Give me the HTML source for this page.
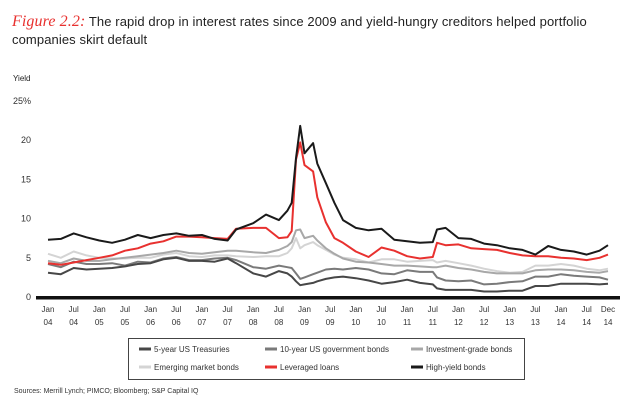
<!DOCTYPE html>
<html><head><meta charset="utf-8">
<style>
body{margin:0;background:#fff;width:640px;height:410px;overflow:hidden;font-family:"Liberation Sans",sans-serif;}
#wrap{position:relative;width:640px;height:410px;}
.title{position:absolute;left:12px;top:13px;font-size:13px;line-height:18px;color:#222;width:630px;white-space:nowrap;letter-spacing:0.1px;}
.fig{color:#e8312f;font-family:"Liberation Serif",serif;font-style:italic;font-size:16px;}
.src{position:absolute;left:14px;top:388px;font-size:7px;color:#333;}
</style></head><body>
<div id="wrap">
<div class="title"><span class="fig">Figure 2.2:</span> The rapid drop in interest rates since 2009 and yield-hungry creditors helped portfolio<br>companies skirt default</div>
<svg id="chart" width="640" height="410" style="position:absolute;left:0;top:0"></svg>
<div class="src">Sources: Merrill Lynch; PIMCO; Bloomberg; S&amp;P Capital IQ</div>
</div>
<script>
const months=[0,3,6,9,12,15,18,21,24,27,30,33,36,39,42,44,48,51,54,56,57,58,59,60,62,63,65,67,69,72,75,78,81,84,87,90,91,93,96,99,102,105,108,111,114,117,120,123,126,129,131];
const treasury5=[3.1,2.9,3.7,3.5,3.6,3.7,3.9,4.2,4.3,4.8,5.0,4.6,4.6,4.5,4.9,4.3,3.0,2.6,3.3,3.0,2.6,2.0,1.5,1.6,1.8,2.0,2.3,2.5,2.6,2.4,2.1,1.7,1.9,2.2,1.8,1.6,1.1,0.9,0.9,0.9,0.7,0.7,0.8,0.8,1.4,1.4,1.7,1.7,1.7,1.6,1.7];
const govt10=[4.2,3.8,4.5,4.2,4.2,4.3,4.0,4.5,4.4,4.9,5.1,4.7,4.7,4.9,5.0,4.7,3.8,3.6,4.0,3.8,3.7,3.0,2.3,2.5,2.9,3.1,3.5,3.6,3.5,3.7,3.5,3.0,2.9,3.4,3.2,3.2,2.5,2.1,2.0,2.1,1.6,1.7,1.9,2.0,2.6,2.6,2.9,2.7,2.6,2.5,2.2];
const investGrade=[4.6,4.3,4.9,4.6,4.6,4.8,5.0,5.2,5.4,5.6,5.9,5.6,5.5,5.7,5.9,5.9,5.7,5.6,6.0,6.5,7.0,8.5,8.6,7.5,7.8,7.2,6.2,5.5,4.9,4.5,4.4,4.2,4.0,4.0,3.9,3.8,3.8,4.0,3.7,3.5,3.2,3.0,3.0,3.0,3.4,3.5,3.5,3.4,3.2,3.1,3.3];
const emerging=[5.5,5.0,5.8,5.3,5.0,4.9,4.9,5.0,5.0,5.4,5.6,5.2,5.1,5.3,5.3,5.2,5.1,5.2,5.2,5.6,6.2,7.5,6.2,6.6,7.0,6.6,6.0,5.4,5.0,4.8,4.4,4.8,4.8,4.5,4.6,4.7,4.4,4.6,4.3,4.0,3.6,3.3,3.1,3.2,4.0,4.0,4.2,4.0,3.6,3.4,3.6];
const leveraged=[4.3,4.1,4.4,4.7,5.0,5.3,5.9,6.2,6.8,7.1,7.7,7.7,7.6,7.5,7.4,8.7,8.8,8.8,7.5,7.6,8.4,17.5,19.7,16.8,16.0,12.7,9.5,7.5,6.9,5.8,5.1,6.3,5.9,5.2,4.9,5.1,6.9,6.6,6.7,6.2,6.1,6.0,5.6,5.3,5.2,5.2,5.0,4.9,4.7,5.0,5.4];
const highYield=[7.3,7.4,8.1,7.6,7.2,6.9,7.3,7.9,7.5,7.9,8.1,7.8,7.9,7.4,7.2,8.6,9.4,10.5,9.8,11.0,12.0,17.7,21.8,18.3,19.6,17.0,14.5,12.0,9.8,8.8,8.5,8.7,7.3,7.1,6.9,7.0,8.6,8.8,7.5,7.4,6.8,6.6,6.2,6.0,5.4,6.5,6.0,5.8,5.4,5.9,6.6];
const yTicks=[0,5,10,15,20,25];
const xTickMonths=[0,6,12,18,24,30,36,42,48,54,60,66,72,78,84,90,96,102,108,114,120,126,131];
const xTickTop=["Jan","Jul","Jan","Jul","Jan","Jul","Jan","Jul","Jan","Jul","Jan","Jul","Jan","Jul","Jan","Jul","Jan","Jul","Jan","Jul","Jan","Jul","Dec"];
const xTickBottom=["04","04","05","05","06","06","07","07","08","08","09","09","10","10","11","11","12","12","13","13","14","14","14"];

const NS="http://www.w3.org/2000/svg";
const svg=document.getElementById('chart');
const X=m=>48+m*4.275;
const Y=v=>297-v*7.85;
function mk(tag,attrs){const e=document.createElementNS(NS,tag);for(const k in attrs)e.setAttribute(k,attrs[k]);svg.appendChild(e);return e;}

let t=mk('text',{x:13,y:81,'font-size':8,fill:'#222'});t.textContent='Yield';


yTicks.forEach(v=>{
  const e=mk('text',{x:31,y:Y(v)+3,'font-size':9,fill:'#333','text-anchor':'end'});
  e.textContent=v===25?'25%':String(v);
  
  
});
xTickMonths.forEach((m,i)=>{
  const a=mk('text',{x:X(m),y:312,'font-size':8,fill:'#333','text-anchor':'middle'});a.textContent=xTickTop[i];
  
  
  const b=mk('text',{x:X(m),y:325,'font-size':8,fill:'#333','text-anchor':'middle'});b.textContent=xTickBottom[i];
  
  
});
const series=[
 {name:'emerging-market-bonds-line',d:emerging,c:'#d4d4d4'},
 {name:'investment-grade-bonds-line',d:investGrade,c:'#a8a8a8'},
 {name:'10-year-govt-bonds-line',d:govt10,c:'#7a7a7a'},
 {name:'5-year-treasuries-line',d:treasury5,c:'#474747'},
 {name:'leveraged-loans-line',d:leveraged,c:'#e8312f'},
 {name:'high-yield-bonds-line',d:highYield,c:'#1a1a1a'}];
series.forEach(s=>{
  const p=mk('polyline',{points:s.d.map((v,i)=>X(months[i]).toFixed(1)+','+Y(v).toFixed(1)).join(' '),fill:'none',stroke:s.c,'stroke-width':2,'stroke-linejoin':'round'});
  
  
});
const ax=mk('rect',{x:36,y:296,width:584,height:3.5,fill:'#111'});


const lg=mk('rect',{x:128.5,y:338.5,width:396,height:41,fill:'none',stroke:'#444','stroke-width':1});


const legend=[['5-year US Treasuries','#474747',139,349],['10-year US government bonds','#7a7a7a',265,349],['Investment-grade bonds','#a8a8a8',411,349],['Emerging market bonds','#d4d4d4',139,367],['Leveraged loans','#e8312f',265,367],['High-yield bonds','#1a1a1a',411,367]];
legend.forEach(l=>{
  const r=mk('rect',{x:l[2],y:l[3]-1.5,width:12,height:3,fill:l[1]});
  
  
  const tx=mk('text',{x:l[2]+15,y:l[3]+3,'font-size':8,fill:'#333'});tx.textContent=l[0];
  
  
});
</script>
</body></html>
